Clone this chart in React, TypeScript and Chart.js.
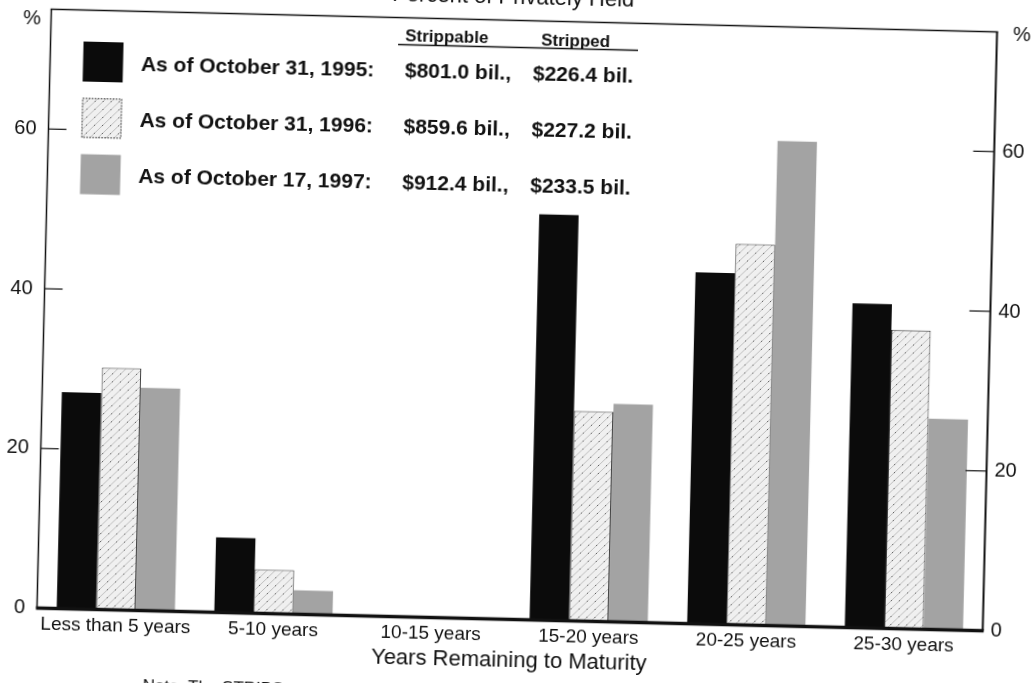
import { useEffect, useRef } from 'react';
import { Chart, registerables } from 'chart.js';

Chart.register(...registerables);

const categories = ['Less than 5 years', '5-10 years', '10-15 years', '15-20 years', '20-25 years', '25-30 years'];
const values1995 = [27.1, 9.4, 0, 50.8, 44.0, 40.6];
const values1996 = [30.3, 5.5, 0, 26.3, 47.7, 37.4];
const values1997 = [27.9, 3.0, 0, 27.3, 60.7, 26.4];
const yTickValues = [0, 20, 40, 60];
const seriesNames = ['As of October 31, 1995', 'As of October 31, 1996', 'As of October 17, 1997'];
const legendDates = ['As of October 31, 1995:', 'As of October 31, 1996:', 'As of October 17, 1997:'];
const strippableAmounts = ['$801.0 bil.,', '$859.6 bil.,', '$912.4 bil.,'];
const strippedAmounts = ['$226.4 bil.', '$227.2 bil.', '$233.5 bil.'];
const columnHeaders = ['Strippable', 'Stripped'];
const chartTitle = 'Percent of Privately Held';
const xAxisTitle = 'Years Remaining to Maturity';
const noteText = 'Note: The STRIPS';
const unitLabel = '%';

const FONT = '"Liberation Sans", Arial, Helvetica, sans-serif';
const INK = '#111111';

function makeHatch(): CanvasPattern | string {
  const c = document.createElement('canvas');
  c.width = 8;
  c.height = 8;
  const g = c.getContext('2d');
  if (!g) return '#eeeeee';
  g.fillStyle = '#f0f0f0';
  g.fillRect(0, 0, 8, 8);
  g.strokeStyle = '#bdbdbd';
  g.lineWidth = 1;
  g.beginPath();
  g.moveTo(-1, 9);
  g.lineTo(9, -1);
  g.stroke();
  g.fillStyle = '#555555';
  g.fillRect(2, 5, 1, 1);
  const p = g.createPattern(c, 'repeat');
  return p || '#eeeeee';
}

const framePlugin = {
  id: 'frameAndLegend',
  afterDraw(chart: any) {
    const { ctx, chartArea } = chart;
    const { left, right, top, bottom } = chartArea;
    const y = chart.scales.y;
    const line = (x1: number, y1: number, x2: number, y2: number) => {
      ctx.beginPath();
      ctx.moveTo(x1, y1);
      ctx.lineTo(x2, y2);
      ctx.stroke();
    };
    ctx.save();
    ctx.strokeStyle = INK;
    ctx.lineWidth = 1.5;
    line(left - 0.75, top, right + 1, top);
    line(left, top, left, bottom);
    ctx.lineWidth = 2;
    line(right, top, right, bottom);
    ctx.lineWidth = 1.2;
    for (const v of yTickValues) {
      if (v === 0) continue;
      const py = y.getPixelForValue(v);
      line(left, py, left + 18, py);
      line(right - 21, py, right, py);
    }
    const y0 = y.getPixelForValue(0);
    ctx.lineWidth = 3.5;
    line(left - 1, y0, right + 1, y0);

    // unit labels
    ctx.fillStyle = INK;
    ctx.font = `20px ${FONT}`;
    ctx.textAlign = 'center';
    ctx.textBaseline = 'middle';
    ctx.fillText(unitLabel, left - 19, top + 10);
    ctx.fillText(unitLabel, right + 25, top + 3);

    // title (cut at the top, as in the source)
    ctx.font = `22px ${FONT}`;
    ctx.textAlign = 'center';
    ctx.textBaseline = 'alphabetic';
    ctx.fillText(chartTitle, 538, top - 17);

    // legend
    const swX = 109.5;
    const rowY = [110, 166.3, 222.6];
    const ds = chart.data.datasets;
    for (let i = 0; i < 3; i++) {
      const cy = rowY[i];
      ctx.fillStyle = ds[i].backgroundColor;
      ctx.fillRect(swX, cy - 20, 40, 40);
      if (i === 1) {
        ctx.save();
        ctx.strokeStyle = '#222';
        ctx.lineWidth = 1;
        ctx.setLineDash([1.5, 1.5]);
        ctx.strokeRect(swX + 0.5, cy - 19.5, 39, 39);
        ctx.restore();
      }
      ctx.fillStyle = INK;
      ctx.font = `bold 21px ${FONT}`;
      ctx.textAlign = 'left';
      ctx.textBaseline = 'middle';
      ctx.fillText(legendDates[i], 167.4, cy + 2);
      ctx.fillText(strippableAmounts[i], 431.5, cy + 2);
      ctx.fillText(strippedAmounts[i], 559.5, cy + 2);
    }
    ctx.font = `bold 17px ${FONT}`;
    ctx.textAlign = 'left';
    ctx.textBaseline = 'alphabetic';
    ctx.fillText(columnHeaders[0], 431, 82);
    ctx.fillText(columnHeaders[1], 567, 82.5);
    ctx.lineWidth = 1.5;
    line(424, 85.5, 664, 85.5);

    // note (cut at the bottom, as in the source)
    ctx.font = `17px ${FONT}`;
    ctx.textAlign = 'left';
    ctx.textBaseline = 'top';
    ctx.fillText(noteText, 184, 725);
    ctx.restore();
  },
};

export default function App() {
  const ref = useRef<HTMLCanvasElement | null>(null);

  useEffect(() => {
    if (!ref.current) return;
    const hatch = makeHatch();
    const chart = new Chart(ref.current, {
      type: 'bar',
      data: {
        labels: categories,
        datasets: [
          { label: seriesNames[0], data: values1995, backgroundColor: '#0b0b0b', borderWidth: 0, yAxisID: 'y' },
          {
            label: seriesNames[1],
            data: values1996,
            backgroundColor: hatch as any,
            borderColor: '#333333',
            borderWidth: { top: 1, left: 1, right: 1, bottom: 0 } as any,
            borderSkipped: false as any,
            yAxisID: 'y',
          },
          { label: seriesNames[2], data: values1997, backgroundColor: '#a3a3a3', borderWidth: 0, yAxisID: 'y' },
        ],
      },
      options: {
        responsive: false,
        animation: false,
        devicePixelRatio: 1,
        categoryPercentage: 0.75,
        barPercentage: 1,
        layout: { padding: { top: 58.5, left: 0, right: 0, bottom: 0 } },
        plugins: { legend: { display: false }, tooltip: { enabled: false }, title: { display: false } },
        scales: {
          x: {
            type: 'category',
            offset: true,
            grid: { display: false, drawTicks: false },
            border: { display: false },
            ticks: { font: { family: FONT, size: 19 }, color: INK, padding: 5, maxRotation: 0, autoSkip: false },
            title: {
              display: true,
              text: xAxisTitle,
              font: { family: FONT, size: 22 },
              color: INK,
              padding: { top: 0, bottom: 46.8 },
            },
            afterFit(s: any) {
              s.height = 101.5;
            },
          },
          y: {
            position: 'left',
            min: 0,
            max: 75,
            grid: { display: false, drawTicks: false },
            border: { display: false },
            ticks: { font: { family: FONT, size: 20 }, color: INK, padding: 12 },
            afterBuildTicks(s: any) {
              s.ticks = yTickValues.map((v) => ({ value: v }));
            },
            afterFit(s: any) {
              s.width = 76.5;
            },
          },
          y1: {
            position: 'right',
            min: 0,
            max: 75,
            grid: { display: false, drawTicks: false },
            border: { display: false },
            ticks: { font: { family: FONT, size: 20 }, color: INK, padding: 8 },
            afterBuildTicks(s: any) {
              s.ticks = yTickValues.map((v) => ({ value: v }));
            },
            afterFit(s: any) {
              s.width = 77.5;
            },
          },
        },
      },
      plugins: [framePlugin],
    } as any);
    return () => chart.destroy();
  }, []);

  return (
    <div style={{ position: 'fixed', left: 0, top: 0, width: '100vw', height: '100vh', overflow: 'hidden', background: '#ffffff' }}>
      <div
        style={{
          position: 'absolute',
          left: -33,
          top: -38,
          width: 1100,
          height: 759,
          transform: 'rotate(1.375deg)',
          transformOrigin: '50% 50%',
        }}
      >
        <canvas ref={ref} width={1100} height={759} style={{ width: 1100, height: 759, display: 'block' }} />
      </div>
    </div>
  );
}
